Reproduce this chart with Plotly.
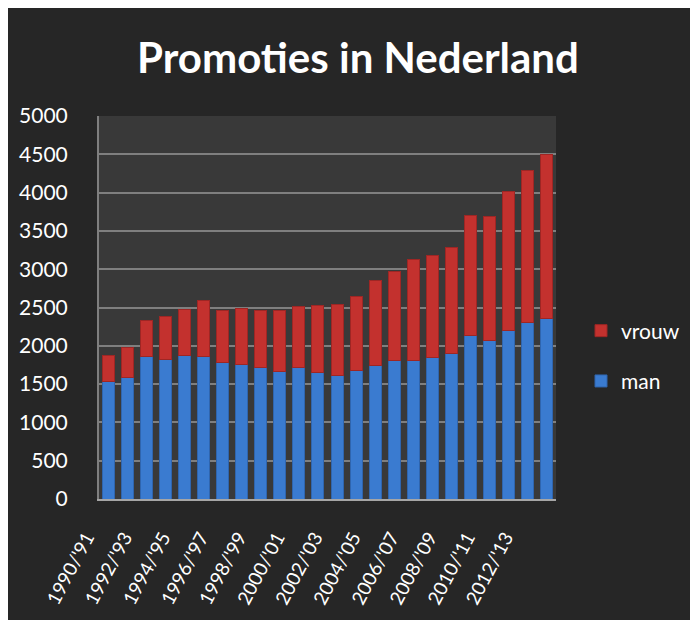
import plotly.graph_objects as go

years = ["1990/'91", "1991/'92", "1992/'93", "1993/'94", "1994/'95", "1995/'96",
         "1996/'97", "1997/'98", "1998/'99", "1999/'00", "2000/'01", "2001/'02",
         "2002/'03", "2003/'04", "2004/'05", "2005/'06", "2006/'07", "2007/'08",
         "2008/'09", "2009/'10", "2010/'11", "2011/'12", "2012/'13", "2013/'14"]

man = [1540, 1583, 1865, 1822, 1878, 1865, 1778, 1761, 1713, 1661, 1713, 1645,
       1613, 1674, 1748, 1804, 1804, 1843, 1900, 2139, 2065, 2204, 2300, 2357]

vrouw = [338, 391, 465, 556, 596, 722, 687, 726, 752, 804, 796, 885,
         930, 965, 1100, 1161, 1326, 1340, 1378, 1565, 1622, 1813, 1991, 2143]

tick_vals = years[::2]
y_ticks = list(range(0, 5001, 500))

# page has an 8px body margin; figure runs past the right edge of the window
W, H = 730, 612
L, R, T, B = 91, 182, 108, 121
pw, ph = W - L - R, H - T - B

def px(x):
    return (x - L) / pw

def py(y):
    return (H - B - y) / ph

fig = go.Figure()
fig.add_trace(go.Bar(x=years, y=man, name="man", legendgroup="m", legendrank=2,
                     marker=dict(color="#3A7BD0", line=dict(color="#2F65AE", width=1))))
fig.add_trace(go.Bar(x=years, y=vrouw, name="vrouw", legendgroup="v", legendrank=1,
                     marker=dict(color="#C3312E", line=dict(color="#9E2624", width=1))))

fig.update_layout(
    width=W, height=H,
    margin=dict(l=L, r=R, t=T, b=B),
    paper_bgcolor="#262626",
    plot_bgcolor="#393939",
    barmode="stack",
    bargap=0.37,
    title=dict(text="<b>Promoties in Nederland</b>", x=350 / W, xanchor="center",
               y=1 - 50 / H, yanchor="middle",
               font=dict(family="Lato", size=42, color="white")),
    font=dict(family="Lato", color="white"),
    legend=dict(x=px(573), xanchor="left", y=py(348), yanchor="middle",
                traceorder="grouped", tracegroupgap=20,
                font=dict(size=21, color="white"), bgcolor="rgba(0,0,0,0)"),
    xaxis=dict(tickmode="array", tickvals=tick_vals, ticktext=tick_vals,
               tickangle=-62, tickfont=dict(size=19, color="white"),
               showline=True, linecolor="#A6A6A6", linewidth=2, automargin=False,
               showgrid=False, ticks="", ticklabelstandoff=18, ticklabelshift=-22),
    yaxis=dict(range=[0, 5000], tickmode="array", tickvals=y_ticks,
               tickfont=dict(size=21, color="white"), automargin=False,
               showgrid=True, gridcolor="#7F7F7F", gridwidth=1.5,
               showline=True, linecolor="#7F7F7F", linewidth=2,
               zeroline=False, ticks="", ticklabelstandoff=25),
)

fig.write_html("out.html")
